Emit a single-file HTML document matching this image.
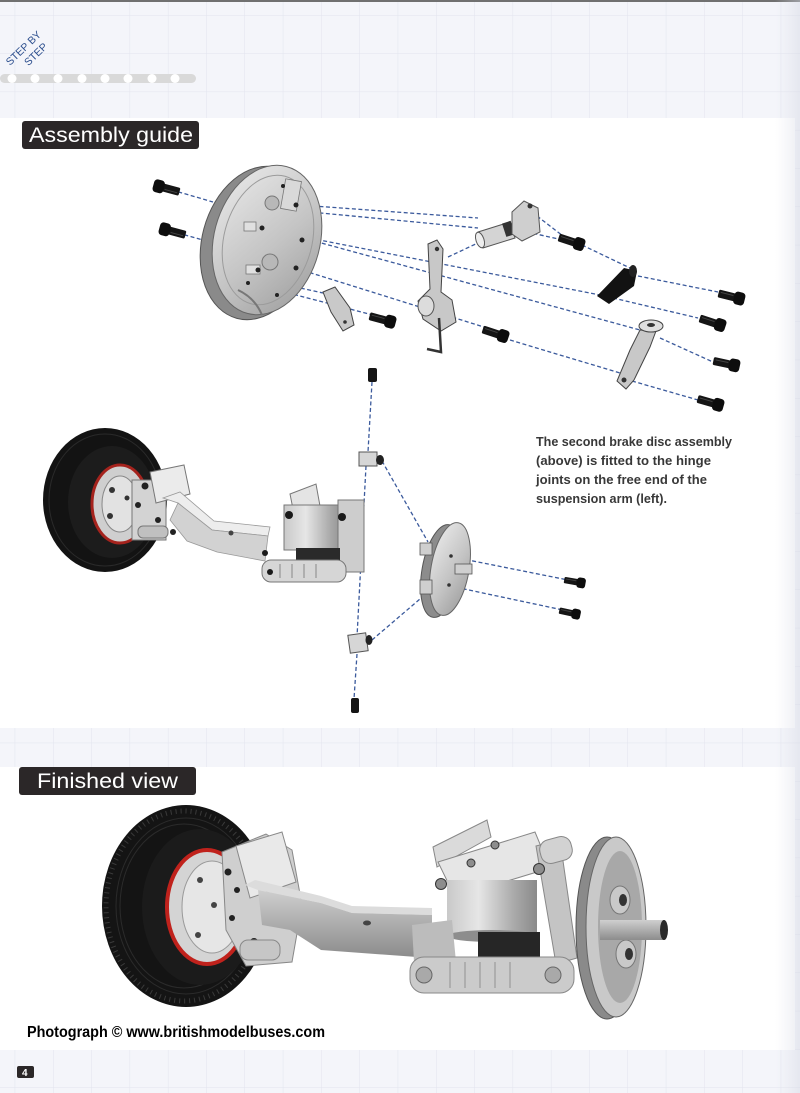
<!DOCTYPE html>
<html><head><meta charset="utf-8">
<style>
html,body{margin:0;padding:0;background:#f4f5fa;}
svg{display:block;}
text{font-family:"Liberation Sans","DejaVu Sans",sans-serif;}
</style></head><body>
<svg width="800" height="1093" viewBox="0 0 800 1093" xmlns="http://www.w3.org/2000/svg">
<defs>
 <pattern id="grid" width="38.3" height="38.3" patternUnits="userSpaceOnUse" x="14.7" y="15">
  <path d="M0 0H38.3M0 0V38.3" stroke="#e2e4ee" stroke-width="1" fill="none"/>
 </pattern>
 <linearGradient id="face" x1="0" y1="0" x2="1" y2="1">
  <stop offset="0" stop-color="#ececec"/><stop offset="0.55" stop-color="#c4c4c4"/><stop offset="1" stop-color="#9a9a9a"/>
 </linearGradient>
 <linearGradient id="metalH" x1="0" y1="0" x2="1" y2="0">
  <stop offset="0" stop-color="#dcdcdc"/><stop offset="0.5" stop-color="#b4b4b4"/><stop offset="1" stop-color="#8f8f8f"/>
 </linearGradient>
 <linearGradient id="metalV" x1="0" y1="0" x2="0" y2="1">
  <stop offset="0" stop-color="#cfcfcf"/><stop offset="1" stop-color="#8c8c8c"/>
 </linearGradient>
 <linearGradient id="cyl" x1="0" y1="0" x2="1" y2="0">
  <stop offset="0" stop-color="#c9c9c9"/><stop offset="0.35" stop-color="#e6e6e6"/><stop offset="0.75" stop-color="#a9a9a9"/><stop offset="1" stop-color="#8a8a8a"/>
 </linearGradient>
 <linearGradient id="edge" x1="0" y1="0" x2="1" y2="0">
  <stop offset="0" stop-color="#dfe1ea" stop-opacity="0"/><stop offset="1" stop-color="#d3d6e2" stop-opacity="0.45"/>
 </linearGradient>
 <g id="scr">
  <rect x="-15" y="-4" width="17" height="8" rx="1.5" fill="#151515"/>
  <rect x="1" y="-6.5" width="11" height="13" rx="3.5" fill="#0d0d0d"/>
  <line x1="-13" y1="-1.5" x2="0" y2="-1.5" stroke="#444" stroke-width="1"/>
 </g>
</defs>

<!-- background -->
<rect width="800" height="1093" fill="#f4f5fa"/>
<rect width="800" height="1093" fill="url(#grid)"/>
<rect x="0" y="0" width="800" height="2" fill="#707070"/>
<rect x="0" y="118" width="795" height="610" fill="#ffffff"/>
<rect x="0" y="767" width="795" height="283" fill="#ffffff"/>
<rect x="775" y="0" width="25" height="1093" fill="url(#edge)"/>

<!-- STEP BY STEP -->
<g transform="translate(10,66) rotate(-44)" fill="#2d4f8e" font-size="10.5">
 <text x="0" y="0">STEP BY</text>
 <text x="13" y="13">STEP</text>
</g>
<!-- dotted bar -->
<rect x="0" y="74" width="196" height="9" rx="4.5" fill="#d9d9d9"/>
<g fill="#ffffff">
 <circle cx="12" cy="78.5" r="4.5"/><circle cx="35" cy="78.5" r="4.5"/><circle cx="58" cy="78.5" r="4.5"/>
 <circle cx="82" cy="78.5" r="4.5"/><circle cx="105" cy="78.5" r="4.5"/><circle cx="128" cy="78.5" r="4.5"/>
 <circle cx="152" cy="78.5" r="4.5"/><circle cx="175" cy="78.5" r="4.5"/>
</g>

<!-- headers -->
<rect x="22" y="121" width="177" height="28" rx="3" fill="#2b2728"/>
<text x="29" y="142" font-size="21" fill="#ffffff" textLength="164" lengthAdjust="spacingAndGlyphs">Assembly guide</text>
<rect x="19" y="767" width="177" height="28" rx="3" fill="#2b2728"/>
<text x="37" y="788" font-size="21" fill="#ffffff" textLength="141" lengthAdjust="spacingAndGlyphs">Finished view</text>

<!-- ================= TOP EXPLODED VIEW ================= -->
<g stroke="#3b5a9c" stroke-width="1.3" stroke-dasharray="4 2.5" fill="none">
 <line x1="172" y1="190" x2="213" y2="202"/>
 <line x1="178" y1="233" x2="203" y2="240"/>
 <line x1="300" y1="205" x2="478" y2="218"/>
 <line x1="300" y1="211" x2="478" y2="228"/>
 <line x1="537" y1="216" x2="563" y2="236"/>
 <line x1="527" y1="232" x2="563" y2="240"/>
 <line x1="582" y1="245" x2="630" y2="268"/>
 <line x1="638" y1="276" x2="718" y2="292"/>
 <line x1="448" y1="257" x2="480" y2="242"/>
 <line x1="253" y1="227" x2="600" y2="295"/>
 <line x1="613" y1="298" x2="698" y2="318"/>
 <line x1="303" y1="238" x2="640" y2="330"/>
 <line x1="660" y1="338" x2="713" y2="362"/>
 <line x1="260" y1="257" x2="487" y2="328"/>
 <line x1="510" y1="340" x2="620" y2="373"/>
 <line x1="632" y1="381" x2="698" y2="400"/>
 <line x1="250" y1="283" x2="373" y2="315"/>
 <line x1="250" y1="277" x2="323" y2="293"/>
</g>

<!-- big disc -->
<g>
 <ellipse cx="257" cy="243" rx="55" ry="78" transform="rotate(15 257 243)" fill="#8a8a8a" stroke="#555" stroke-width="1"/>
 <ellipse cx="267" cy="240" rx="53" ry="76" transform="rotate(15 267 240)" fill="url(#face)" stroke="#666" stroke-width="1"/>
 <ellipse cx="268" cy="240" rx="44" ry="66" transform="rotate(15 268 240)" fill="none" stroke="#9b9b9b" stroke-width="1"/>
 <rect x="283" y="180" width="16" height="30" fill="#d9d9d9" stroke="#777" stroke-width="0.8" transform="rotate(10 291 195)"/>
 <circle cx="272" cy="203" r="7" fill="#b8b8b8" stroke="#777"/>
 <circle cx="270" cy="262" r="8" fill="#b8b8b8" stroke="#777"/>
 <rect x="244" y="222" width="12" height="9" fill="#e0e0e0" stroke="#777" stroke-width="0.8"/>
 <rect x="246" y="265" width="14" height="9" fill="#e0e0e0" stroke="#777" stroke-width="0.8"/>
 <g fill="#222">
  <circle cx="296" cy="205" r="2.5"/><circle cx="262" cy="228" r="2.5"/><circle cx="302" cy="240" r="2.5"/>
  <circle cx="258" cy="270" r="2.5"/><circle cx="296" cy="268" r="2.5"/><circle cx="248" cy="283" r="2"/>
  <circle cx="283" cy="186" r="2"/><circle cx="277" cy="295" r="2"/>
 </g>
 <path d="M238 290 Q255 298 262 315" stroke="#777" stroke-width="2" fill="none"/>
</g>
<!-- left screws -->
<use href="#scr" transform="translate(165,188) rotate(195)"/>
<use href="#scr" transform="translate(171,231) rotate(195)"/>
<!-- bracket -->
<path d="M323 292 L335 287 L350 308 L354 325 L343 331 L331 312 Z" fill="#c9c9c9" stroke="#444" stroke-width="1"/>
<circle cx="345" cy="322" r="1.8" fill="#333"/>
<!-- screw mid -->
<use href="#scr" transform="translate(384,320) rotate(15)"/>
<!-- lever -->
<path d="M428 244 L437 240 L443 249 L441 292 L452 300 L456 322 L441 331 L423 319 L418 301 L430 289 Z" fill="#c8c8c8" stroke="#444" stroke-width="1"/>
<circle cx="437" cy="249" r="2.2" fill="#333"/>
<ellipse cx="426" cy="306" rx="8" ry="10" fill="#dcdcdc" stroke="#555" stroke-width="1"/>
<polyline points="439,318 441,352 427,349" fill="none" stroke="#333" stroke-width="2.5"/>
<!-- tube -->
<path d="M478 232 L510 222 L515 238 L483 248 Z" fill="#d4d4d4" stroke="#555" stroke-width="1"/>
<ellipse cx="480" cy="240" rx="4" ry="8" transform="rotate(-18 480 240)" fill="#eeeeee" stroke="#555"/>
<rect x="504" y="222" width="9" height="14" fill="#333" transform="rotate(-18 508 229)"/>
<path d="M512 212 L524 201 L538 208 L540 232 L522 241 L512 234 Z" fill="#cfcfcf" stroke="#555" stroke-width="1"/>
<circle cx="530" cy="206" r="2.5" fill="#333"/>
<!-- small screw -->
<use href="#scr" transform="translate(573,242) rotate(18)"/>
<!-- clip -->
<path d="M597 296 L624 268 L637 271 L634 286 L609 304 Z" fill="#121212"/>
<ellipse cx="633" cy="271" rx="4" ry="6" fill="#222"/>
<!-- right arm part -->
<path d="M640 330 L656 331 L650 347 L634 380 L626 389 L617 381 L630 350 Z" fill="#c8c8c8" stroke="#444" stroke-width="1"/>
<ellipse cx="651" cy="326" rx="12" ry="6" fill="#dedede" stroke="#444"/>
<ellipse cx="651" cy="325" rx="4" ry="2" fill="#333"/>
<circle cx="624" cy="380" r="2.5" fill="#333"/>
<!-- screws right / middle -->
<use href="#scr" transform="translate(497,334) rotate(18)"/>
<use href="#scr" transform="translate(733,297) rotate(14)"/>
<use href="#scr" transform="translate(714,323) rotate(18)"/>
<use href="#scr" transform="translate(728,364) rotate(12)"/>
<use href="#scr" transform="translate(712,403) rotate(16)"/>

<!-- ================= MIDDLE SECTION ================= -->
<g stroke="#3b5a9c" stroke-width="1.3" stroke-dasharray="4 2.5" fill="none">
 <line x1="372" y1="382" x2="368" y2="452"/>
 <line x1="366" y1="466" x2="357" y2="637"/>
 <line x1="357" y1="654" x2="354" y2="699"/>
 <line x1="382" y1="461" x2="428" y2="542"/>
 <line x1="372" y1="640" x2="427" y2="593"/>
 <line x1="453" y1="557" x2="568" y2="580"/>
 <line x1="450" y1="586" x2="563" y2="610"/>
</g>
<!-- tyre -->
<ellipse cx="105" cy="500" rx="62" ry="72" fill="#131313"/>
<ellipse cx="105" cy="500" rx="56" ry="66" fill="none" stroke="#2a2a2a" stroke-width="1"/>
<ellipse cx="112" cy="502" rx="44" ry="56" fill="#1c1c1c"/>
<ellipse cx="120" cy="504" rx="28" ry="39" fill="#cfcfcf" stroke="#a5231d" stroke-width="3"/>
<ellipse cx="120" cy="504" rx="18" ry="28" fill="#e2e2e2" stroke="#888" stroke-width="1"/>
<g fill="#333"><circle cx="112" cy="490" r="3"/><circle cx="110" cy="516" r="3"/><circle cx="127" cy="498" r="2.5"/></g>
<!-- wheel bracket -->
<rect x="132" y="480" width="34" height="60" fill="#d3d3d3" stroke="#777" stroke-width="1"/>
<path d="M150 472 L184 465 L190 494 L156 503 Z" fill="#ebebeb" stroke="#777" stroke-width="1"/>
<g fill="#222"><circle cx="145" cy="486" r="3.5"/><circle cx="158" cy="520" r="3"/><circle cx="173" cy="532" r="3"/><circle cx="138" cy="505" r="3"/></g>
<rect x="138" y="526" width="30" height="12" rx="5" fill="#c0c0c0" stroke="#777"/>
<!-- beam -->
<path d="M163 498 L180 492 L214 521 L270 527 L268 536 L212 530 L178 503 Z" fill="#ededed" stroke="#999" stroke-width="0.8"/>
<path d="M178 503 L212 530 L268 536 L265 561 L217 552 L187 541 L170 520 Z" fill="#d2d2d2" stroke="#999" stroke-width="0.8"/>
<circle cx="231" cy="533" r="2.5" fill="#444"/>
<!-- suspension block -->
<path d="M290 494 L316 484 L320 506 L294 514 Z" fill="#e4e4e4" stroke="#777" stroke-width="1"/>
<rect x="284" y="505" width="62" height="45" fill="url(#cyl)" stroke="#777" stroke-width="1"/>
<rect x="338" y="500" width="26" height="72" fill="#cdcdcd" stroke="#777" stroke-width="1"/>
<rect x="296" y="548" width="44" height="14" fill="#2a2a2a"/>
<rect x="262" y="560" width="84" height="22" rx="9" fill="#d6d6d6" stroke="#777" stroke-width="1"/>
<g stroke="#888" stroke-width="1"><line x1="280" y1="564" x2="280" y2="578"/><line x1="292" y1="564" x2="292" y2="578"/><line x1="304" y1="564" x2="304" y2="578"/><line x1="316" y1="564" x2="316" y2="578"/></g>
<g fill="#1a1a1a"><circle cx="289" cy="515" r="4"/><circle cx="342" cy="517" r="4"/><circle cx="265" cy="553" r="3"/><circle cx="270" cy="572" r="3"/></g>
<!-- hinges and screws -->
<rect x="359" y="452" width="18" height="14" fill="#d6d6d6" stroke="#555" stroke-width="1"/>
<ellipse cx="380" cy="460" rx="4" ry="5" fill="#222"/>
<rect x="349" y="634" width="18" height="18" fill="#d6d6d6" stroke="#555" stroke-width="1" transform="rotate(-8 358 643)"/>
<ellipse cx="369" cy="640" rx="3.5" ry="5" fill="#222"/>
<rect x="368" y="368" width="9" height="14" rx="2" fill="#151515"/>
<rect x="351" y="698" width="8" height="15" rx="2" fill="#151515"/>
<!-- disc 2 -->
<ellipse cx="441" cy="571" rx="19" ry="47" transform="rotate(10 441 571)" fill="#8c8c8c" stroke="#555" stroke-width="1"/>
<ellipse cx="450" cy="569" rx="19" ry="47" transform="rotate(10 450 569)" fill="url(#face)" stroke="#666" stroke-width="1"/>
<rect x="420" y="543" width="12" height="12" fill="#cfcfcf" stroke="#555" stroke-width="0.8"/>
<rect x="420" y="580" width="12" height="14" fill="#cfcfcf" stroke="#555" stroke-width="0.8"/>
<rect x="455" y="564" width="17" height="10" fill="#cfcfcf" stroke="#555" stroke-width="0.8"/>
<g fill="#333"><circle cx="451" cy="556" r="1.8"/><circle cx="449" cy="585" r="1.8"/></g>
<use href="#scr" transform="translate(576,582) rotate(10) scale(0.8)"/>
<use href="#scr" transform="translate(571,613) rotate(12) scale(0.8)"/>

<!-- caption -->
<g font-size="12.5" font-weight="bold" fill="#383838">
 <text x="536" y="446" textLength="196" lengthAdjust="spacingAndGlyphs">The second brake disc assembly</text>
 <text x="536" y="465" textLength="175" lengthAdjust="spacingAndGlyphs">(above) is fitted to the hinge</text>
 <text x="536" y="484" textLength="171" lengthAdjust="spacingAndGlyphs">joints on the free end of the</text>
 <text x="536" y="503" textLength="131" lengthAdjust="spacingAndGlyphs">suspension arm (left).</text>
</g>

<!-- ================= FINISHED VIEW ================= -->
<!-- tyre -->
<ellipse cx="186" cy="906" rx="84" ry="101" fill="#141414"/>
<ellipse cx="184" cy="906" rx="78" ry="95" fill="none" stroke="#3a3a3a" stroke-width="5" stroke-dasharray="1 4"/>
<ellipse cx="186" cy="906" rx="70" ry="88" fill="none" stroke="#2b2b2b" stroke-width="1"/>
<ellipse cx="184" cy="906" rx="64" ry="82" fill="none" stroke="#2b2b2b" stroke-width="1"/>
<ellipse cx="200" cy="907" rx="58" ry="78" fill="#1b1b1b"/>
<ellipse cx="207" cy="907" rx="40" ry="57" fill="#d4d4d4" stroke="#c0221c" stroke-width="4"/>
<ellipse cx="212" cy="907" rx="30" ry="46" fill="#e6e6e6" stroke="#999" stroke-width="1"/>
<g fill="#444"><circle cx="200" cy="880" r="3"/><circle cx="198" cy="935" r="3"/><circle cx="214" cy="905" r="3"/></g>
<!-- wheel bracket -->
<path d="M222 852 L266 834 L292 850 L302 905 L292 962 L246 966 L226 930 Z" fill="#cfcfcf" stroke="#888" stroke-width="1"/>
<path d="M236 846 L282 832 L296 882 L250 898 Z" fill="#e9e9e9" stroke="#888" stroke-width="1"/>
<g fill="#222"><circle cx="228" cy="872" r="3.5"/><circle cx="237" cy="890" r="3"/><circle cx="254" cy="942" r="4"/><circle cx="232" cy="918" r="3"/></g>
<rect x="240" y="940" width="40" height="20" rx="8" fill="#c6c6c6" stroke="#888"/>
<!-- beam -->
<path d="M245 885 L255 880 L321 896 L352 906 L432 908 L432 915 L352 913 L321 903 L258 890 Z" fill="#dcdcdc"/>
<path d="M258 890 L321 903 L352 913 L432 915 L432 955 L417 957 L321 950 L290 930 L262 925 Z" fill="url(#metalV)"/>
<ellipse cx="367" cy="923" rx="4" ry="2.5" fill="#444"/>
<!-- suspension -->
<path d="M433 847 L487 820 L491 837 L437 867 Z" fill="#dadada" stroke="#888" stroke-width="1"/>
<path d="M438 862 L535 832 L550 868 L455 897 Z" fill="#e6e6e6" stroke="#888" stroke-width="1"/>
<rect x="447" y="880" width="90" height="56" fill="url(#cyl)"/>
<ellipse cx="492" cy="936" rx="45" ry="6" fill="#8d8d8d"/>
<path d="M536 846 L560 840 L577 958 L556 964 Z" fill="#c4c4c4" stroke="#888" stroke-width="1"/>
<rect x="540" y="838" width="32" height="24" rx="10" fill="#d2d2d2" stroke="#888" transform="rotate(-15 556 850)"/>
<rect x="478" y="932" width="62" height="26" fill="#262626"/>
<path d="M412 925 L452 920 L456 962 L414 962 Z" fill="#bcbcbc"/>
<rect x="410" y="957" width="164" height="36" rx="14" fill="#cbcbcb" stroke="#888" stroke-width="1"/>
<g stroke="#9a9a9a" stroke-width="1.2"><line x1="450" y1="962" x2="450" y2="988"/><line x1="465" y1="962" x2="465" y2="988"/><line x1="480" y1="962" x2="480" y2="988"/><line x1="495" y1="962" x2="495" y2="988"/><line x1="510" y1="962" x2="510" y2="988"/></g>
<g fill="#a9a9a9" stroke="#666" stroke-width="1"><circle cx="424" cy="975" r="8"/><circle cx="553" cy="975" r="8"/></g>
<g fill="#8d8d8d" stroke="#333" stroke-width="1"><circle cx="441" cy="884" r="5.5"/><circle cx="539" cy="869" r="5.5"/><circle cx="471" cy="863" r="4"/><circle cx="495" cy="845" r="4"/></g>
<!-- disc -->
<ellipse cx="607" cy="928" rx="31" ry="91" fill="#8a8a8a" stroke="#555" stroke-width="1"/>
<ellipse cx="616" cy="927" rx="30" ry="90" fill="#c9c9c9" stroke="#666" stroke-width="1"/>
<ellipse cx="620" cy="927" rx="22" ry="76" fill="#a8a8a8"/>
<ellipse cx="620" cy="900" rx="10" ry="14" fill="#c9c9c9" stroke="#777"/>
<ellipse cx="626" cy="954" rx="10" ry="14" fill="#c9c9c9" stroke="#777"/>
<ellipse cx="623" cy="900" rx="4" ry="6" fill="#333"/>
<ellipse cx="629" cy="954" rx="4" ry="6" fill="#333"/>
<rect x="600" y="920" width="64" height="20" fill="url(#metalV)"/>
<ellipse cx="664" cy="930" rx="4" ry="10" fill="#2a2a2a"/>

<!-- credit -->
<text x="27" y="1037" font-size="16" font-weight="bold" fill="#000" textLength="298" lengthAdjust="spacingAndGlyphs">Photograph © www.britishmodelbuses.com</text>
<!-- page number -->
<rect x="17" y="1066" width="17" height="12" rx="2" fill="#2b2728"/>
<text x="22" y="1076" font-size="10" font-weight="bold" fill="#fff">4</text>
</svg>
</body></html>
